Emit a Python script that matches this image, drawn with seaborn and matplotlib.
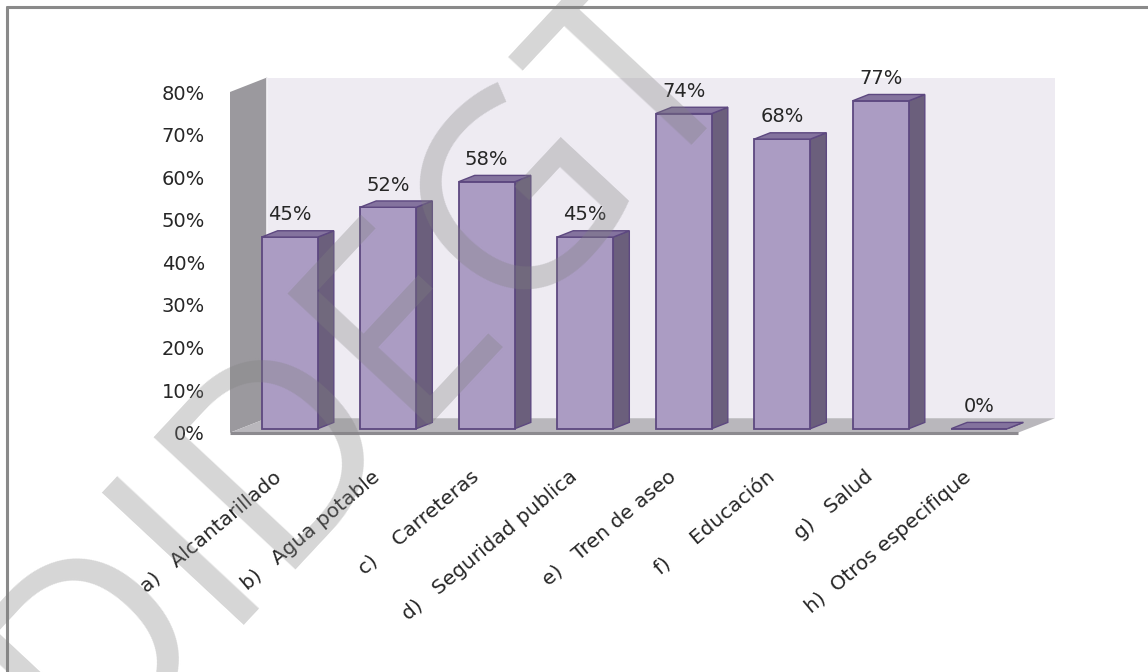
import matplotlib
matplotlib.use("Agg")
import matplotlib.pyplot as plt
from matplotlib.patches import Polygon
from matplotlib.lines import Line2D
import pandas as pd
import seaborn as sns

# Survey results: share of respondents naming each public service
categories = [
    "a)   Alcantarillado",
    "b)   Agua potable",
    "c)    Carreteras",
    "d)   Seguridad publica",
    "e)   Tren de aseo",
    "f)     Educación",
    "g)   Salud",
    "h)  Otros especifique",
]
values = [45, 52, 58, 45, 74, 68, 77, 0]
value_labels = [f"{v}%" for v in values]
y_ticks = [0, 10, 20, 30, 40, 50, 60, 70, 80]
y_tick_labels = [f"{t}%" for t in y_ticks]

sns.set_theme(style="white")
plt.rcParams["font.family"] = ["DejaVu Sans"]

FRONT = "#ab9cc3"
SIDE = "#6b5f7c"
TOP = "#84739e"
EDGE = "#5d4880"
BACK_WALL = "#eeebf2"
SIDE_WALL = "#9b999e"
FLOOR = "#b9b7bc"
FLOOR_EDGE = "#8c8a8f"
TEXT = "#262626"

W, H, DPI = 1148, 672, 100
fig = plt.figure(figsize=(W / DPI, H / DPI), dpi=DPI)
fig.patch.set_facecolor("white")

# front plane of the 3-D box, in pixels from the bottom-left corner
ax_l, ax_b, ax_w, ax_h = 230, 239.3, 788, 340.7
ax = fig.add_axes([ax_l / W, ax_b / H, ax_w / W, ax_h / H])

df = pd.DataFrame({"servicio": categories, "pct": values})
sns.barplot(data=df, x="servicio", y="pct", color=FRONT, saturation=1,
            width=0.57, edgecolor=EDGE, linewidth=1.3, ax=ax, zorder=5)
bars = list(ax.patches)

ax.set_xlim(-0.5, len(categories) - 0.5)
ax.set_ylim(0, 80)
ax.set_facecolor("none")
for s in ax.spines.values():
    s.set_visible(False)
ax.set_xlabel("")
ax.set_ylabel("")

# pixel sizes of one data unit along each axis
px_x = ax_w / len(categories)
px_y = ax_h / 80.0
# depth of the box, offset of the bars behind the front plane, bar depth
DX, DY = 37 / px_x, 14.5 / px_y
FX, FY = 10.5 / px_x, 4.0 / px_y
BX, BY = 16 / px_x, 6.3 / px_y

x0, x1, ytop = -0.5, len(categories) - 0.5, 80

def face(points, color, z, ec="none", lw=0):
    ax.add_patch(Polygon(points, closed=True, facecolor=color, edgecolor=ec,
                         linewidth=lw, zorder=z, clip_on=False))

# back wall, side wall and floor
face([(x0 + DX, DY), (x1 + DX, DY), (x1 + DX, ytop + DY), (x0 + DX, ytop + DY)],
     BACK_WALL, 0)
face([(x0, 0), (x0, ytop), (x0 + DX, ytop + DY), (x0 + DX, DY)], SIDE_WALL, 1)
ax.plot([x0 + DX, x0 + DX], [DY, ytop + DY], color="#f4f3f6", lw=1.2,
        zorder=1.5, clip_on=False)
face([(x0, 0), (x1, 0), (x1 + DX, DY), (x0 + DX, DY)], FLOOR, 2)
ax.plot([x0, x1], [0, 0], color=FLOOR_EDGE, lw=2.2, zorder=2.5,
        clip_on=False, solid_capstyle="butt")

# extrude each bar: shift the front face back, add side and top faces
for p, lab in zip(bars, value_labels):
    bx = p.get_x() + FX
    bw = p.get_width()
    bh = p.get_height()
    p.set_x(bx)
    p.set_y(FY)
    p.set_clip_on(False)
    face([(bx + bw, FY), (bx + bw + BX, FY + BY), (bx + bw + BX, FY + bh + BY),
          (bx + bw, FY + bh)], SIDE, 4, EDGE, 1.0)
    face([(bx, FY + bh), (bx + bw, FY + bh), (bx + bw + BX, FY + bh + BY),
          (bx + BX, FY + bh + BY)], TOP, 6, EDGE, 1.0)
    ax.annotate(lab, (bx + bw / 2, FY + bh), xytext=(0, 12),
                textcoords="offset points", ha="center", va="baseline",
                fontsize=14, color=TEXT, zorder=7)

ax.set_yticks(y_ticks)
ax.set_yticklabels(y_tick_labels, fontsize=14, color=TEXT)
ax.tick_params(axis="y", length=0, pad=18)
ax.set_xticks(range(len(categories)))
ax.set_xticklabels(categories, rotation=40, ha="right", va="center",
                   rotation_mode="anchor", fontsize=14.5, color=TEXT)
ax.tick_params(axis="x", length=0, pad=30)

# outer frame (top and left edges)
fig.add_artist(Line2D([7 / W, 1], [1 - 7 / H, 1 - 7 / H], color="#8a8a8a",
                      lw=2.2, transform=fig.transFigure))
fig.add_artist(Line2D([7 / W, 7 / W], [0, 1 - 7 / H], color="#8a8a8a",
                      lw=2.2, transform=fig.transFigure))

# diagonal watermark
fig.text(0.315, 0.455, "DIDEGT", fontsize=195, rotation=47, color="#808080",
         alpha=0.32, ha="center", va="center", rotation_mode="anchor",
         family=["Open Sans", "DejaVu Sans"], zorder=20)

fig.savefig("out.png", dpi=DPI)
